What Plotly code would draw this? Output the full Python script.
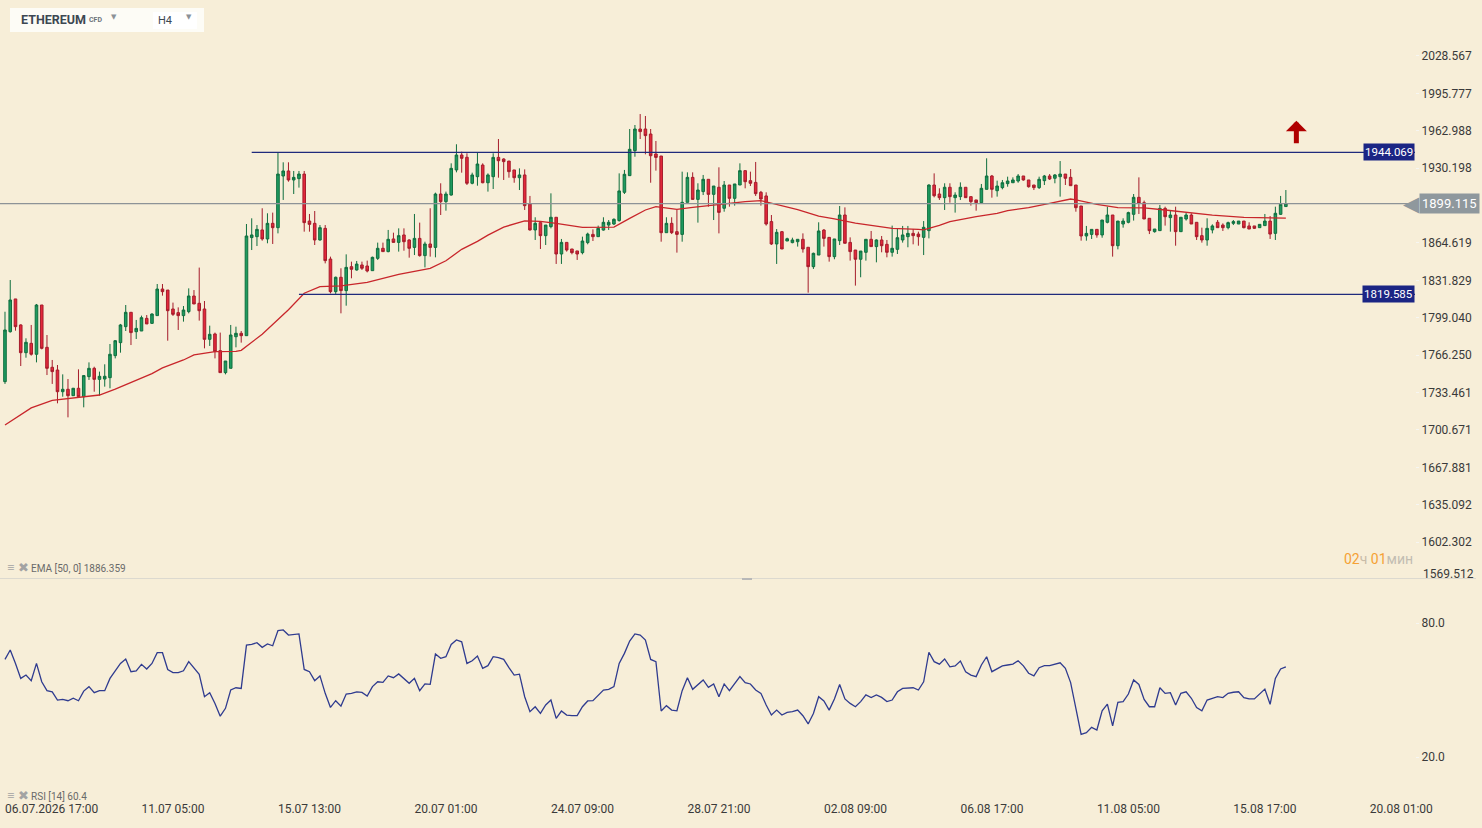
import plotly.graph_objects as go

BG = "#f7eed8"
FONT = "Roboto"

# ETHEREUM CFD, H4 candles; candle 0 = 06.07.2026 17:00
OPEN = [
    1743.0, 1786.8, 1815.5, 1792.7, 1768.4, 1776.6, 1767.0, 1810.2, 1773.1, 1755.6,
    1753.2, 1734.2, 1736.3, 1730.7, 1737.2, 1729.8, 1747.4, 1754.7, 1745.0, 1745.3,
    1746.5, 1765.8, 1777.2, 1791.2, 1803.8, 1786.8, 1787.4, 1798.5, 1794.1, 1800.9,
    1824.2, 1823.3, 1806.7, 1803.5, 1800.9, 1804.4, 1818.1, 1811.7, 1806.7, 1780.1,
    1784.8, 1770.2, 1750.9, 1754.7, 1782.4, 1785.4, 1783.3, 1869.3, 1870.1, 1876.0,
    1868.1, 1881.8, 1878.0, 1923.3, 1927.7, 1919.8, 1921.0, 1925.0, 1883.8, 1881.8,
    1867.2, 1877.4, 1850.5, 1821.9, 1834.5, 1822.8, 1843.8, 1840.9, 1845.3, 1844.4,
    1840.3, 1851.1, 1859.9, 1857.0, 1868.1, 1865.1, 1871.6, 1867.2, 1860.7, 1868.6,
    1853.5, 1863.7, 1860.7, 1907.5, 1900.8, 1906.6, 1928.6, 1941.7, 1939.7, 1916.9,
    1922.7, 1932.9, 1917.4, 1922.7, 1939.6, 1938.2, 1936.4, 1928.6, 1921.8, 1924.2,
    1898.7, 1876.0, 1882.4, 1871.0, 1878.9, 1887.1, 1854.9, 1865.1, 1859.3, 1857.6,
    1856.1, 1864.9, 1872.1, 1870.1, 1875.9, 1880.3, 1881.2, 1884.2, 1909.0, 1923.6,
    1945.5, 1964.5, 1964.5, 1960.1, 1942.6, 1940.8, 1873.6, 1881.8, 1874.5, 1872.1,
    1900.2, 1922.1, 1902.8, 1909.6, 1920.4, 1907.2, 1913.4, 1895.0, 1915.4, 1903.7,
    1915.4, 1928.0, 1919.2, 1917.7, 1909.0, 1905.8, 1883.3, 1863.7, 1874.5, 1866.3,
    1864.9, 1865.7, 1867.8, 1860.8, 1843.8, 1854.0, 1875.9, 1869.5, 1852.6, 1866.6,
    1889.1, 1865.1, 1858.4, 1850.3, 1856.4, 1867.8, 1861.4, 1867.2, 1863.4, 1856.4,
    1859.0, 1867.2, 1870.1, 1873.0, 1872.4, 1869.5, 1875.4, 1915.4, 1907.5, 1904.3,
    1913.4, 1904.3, 1905.2, 1913.4, 1905.2, 1902.3, 1899.9, 1911.6, 1923.3, 1910.4,
    1913.1, 1916.6, 1917.4, 1918.9, 1923.3, 1919.8, 1915.4, 1913.1, 1919.2, 1923.3,
    1921.3, 1922.7, 1925.0, 1922.1, 1915.4, 1897.0, 1870.7, 1872.1, 1876.5, 1871.6,
    1882.7, 1889.1, 1862.2, 1881.2, 1882.7, 1889.7, 1904.6, 1899.9, 1886.2, 1874.5,
    1875.4, 1894.9, 1886.8, 1889.1, 1874.5, 1885.6, 1889.1, 1882.7, 1871.0, 1867.2,
    1876.0, 1882.7, 1880.3, 1878.0, 1881.8, 1881.2, 1883.8, 1879.5, 1879.5, 1878.0,
    1879.8, 1883.8, 1873.0, 1889.7, 1896.5,
]
HIGH = [
    1804.3, 1832.1, 1815.5, 1793.3, 1781.0, 1792.7, 1811.1, 1810.2, 1783.9, 1762.0,
    1757.6, 1749.4, 1745.3, 1737.5, 1753.8, 1748.8, 1759.9, 1756.1, 1751.8, 1758.2,
    1776.0, 1779.5, 1793.6, 1810.2, 1803.8, 1797.1, 1800.9, 1801.4, 1802.9, 1828.6,
    1828.6, 1823.3, 1812.3, 1808.1, 1809.3, 1824.8, 1823.3, 1843.0, 1813.7, 1792.1,
    1786.0, 1786.0, 1761.1, 1792.7, 1791.2, 1787.4, 1881.2, 1886.2, 1880.3, 1895.0,
    1890.6, 1891.2, 1943.7, 1935.3, 1935.3, 1927.7, 1927.7, 1927.7, 1890.0, 1892.6,
    1880.3, 1880.3, 1852.6, 1835.1, 1842.4, 1854.6, 1848.2, 1848.8, 1848.2, 1849.1,
    1852.6, 1864.9, 1864.9, 1876.0, 1873.6, 1877.4, 1877.4, 1867.8, 1890.0, 1882.4,
    1865.7, 1895.0, 1908.7, 1916.9, 1909.6, 1934.4, 1951.1, 1944.6, 1943.2, 1926.2,
    1943.7, 1934.4, 1925.6, 1943.2, 1955.7, 1938.8, 1936.4, 1928.6, 1930.0, 1929.1,
    1905.8, 1887.1, 1882.4, 1880.3, 1908.1, 1887.1, 1868.1, 1865.1, 1859.3, 1857.6,
    1870.1, 1873.6, 1876.5, 1879.8, 1887.1, 1884.7, 1886.2, 1925.6, 1928.6, 1964.5,
    1968.0, 1977.6, 1975.9, 1964.5, 1954.0, 1940.8, 1887.1, 1887.1, 1893.5, 1927.1,
    1926.5, 1926.5, 1916.9, 1924.2, 1920.4, 1914.5, 1930.9, 1918.9, 1915.4, 1916.3,
    1934.4, 1928.0, 1927.1, 1935.6, 1910.2, 1909.0, 1889.1, 1876.8, 1875.1, 1869.2,
    1869.2, 1867.8, 1873.0, 1860.8, 1856.1, 1882.7, 1876.8, 1869.5, 1868.1, 1897.0,
    1895.8, 1869.5, 1858.4, 1857.5, 1867.8, 1875.1, 1867.8, 1870.7, 1867.2, 1879.8,
    1876.8, 1879.5, 1879.5, 1876.8, 1874.5, 1883.8, 1916.0, 1925.6, 1912.5, 1916.9,
    1916.9, 1909.0, 1917.7, 1913.4, 1905.2, 1902.3, 1916.3, 1938.8, 1924.2, 1919.2,
    1919.8, 1922.7, 1922.1, 1925.0, 1923.3, 1919.8, 1915.4, 1922.7, 1924.2, 1925.0,
    1925.0, 1936.4, 1925.0, 1929.4, 1915.4, 1897.0, 1879.5, 1876.5, 1876.5, 1884.7,
    1896.4, 1889.1, 1883.8, 1886.2, 1892.0, 1907.5, 1922.1, 1901.7, 1886.2, 1876.8,
    1897.9, 1896.4, 1892.9, 1896.4, 1887.1, 1891.2, 1890.6, 1882.7, 1878.0, 1886.2,
    1880.9, 1884.7, 1881.8, 1883.3, 1884.7, 1883.8, 1883.8, 1882.7, 1879.5, 1880.9,
    1890.0, 1888.2, 1896.4, 1905.8, 1911.0,
]
LOW = [
    1741.0, 1786.0, 1787.7, 1756.7, 1764.0, 1765.8, 1759.9, 1771.3, 1748.8, 1741.0,
    1724.0, 1729.8, 1711.7, 1730.4, 1729.3, 1720.5, 1744.5, 1734.2, 1730.7, 1738.6,
    1737.2, 1763.4, 1768.4, 1787.4, 1775.1, 1780.4, 1787.4, 1793.6, 1793.6, 1800.9,
    1818.4, 1778.9, 1800.6, 1788.3, 1795.6, 1802.9, 1811.1, 1796.5, 1772.2, 1774.3,
    1763.4, 1750.9, 1749.4, 1754.7, 1773.1, 1777.2, 1783.3, 1858.4, 1861.9, 1866.6,
    1864.3, 1863.7, 1873.0, 1902.3, 1918.3, 1907.5, 1913.1, 1874.5, 1874.5, 1862.8,
    1866.6, 1846.7, 1820.4, 1819.9, 1802.9, 1809.6, 1833.6, 1840.3, 1840.9, 1838.8,
    1840.3, 1849.7, 1857.0, 1856.4, 1865.1, 1857.0, 1857.8, 1851.7, 1854.0, 1852.6,
    1843.2, 1852.6, 1852.0, 1889.1, 1892.9, 1906.1, 1926.5, 1926.2, 1915.4, 1916.0,
    1914.8, 1916.9, 1909.6, 1911.9, 1921.8, 1919.8, 1921.8, 1917.4, 1911.0, 1893.5,
    1875.4, 1867.2, 1859.3, 1862.8, 1877.4, 1846.2, 1846.2, 1857.0, 1854.6, 1849.7,
    1854.6, 1863.4, 1866.3, 1870.1, 1875.4, 1876.0, 1880.3, 1883.3, 1907.5, 1923.6,
    1940.2, 1955.7, 1942.3, 1917.4, 1928.0, 1865.7, 1873.6, 1872.4, 1856.1, 1865.7,
    1900.2, 1902.8, 1882.4, 1906.6, 1896.4, 1884.7, 1873.0, 1892.0, 1896.4, 1897.3,
    1915.4, 1912.5, 1914.5, 1905.8, 1897.3, 1879.8, 1862.8, 1846.2, 1859.3, 1866.3,
    1864.3, 1861.4, 1856.1, 1821.0, 1841.8, 1854.0, 1861.4, 1848.2, 1850.3, 1862.8,
    1864.3, 1849.1, 1827.2, 1834.5, 1849.1, 1861.4, 1847.6, 1856.4, 1852.0, 1852.6,
    1854.9, 1864.9, 1860.8, 1863.4, 1862.2, 1854.0, 1868.6, 1904.6, 1902.3, 1893.5,
    1899.9, 1891.2, 1902.3, 1904.3, 1897.3, 1892.9, 1899.9, 1911.6, 1904.3, 1905.2,
    1911.6, 1913.9, 1917.4, 1917.4, 1919.2, 1913.1, 1911.0, 1911.9, 1915.4, 1919.8,
    1916.9, 1905.2, 1915.4, 1914.8, 1892.0, 1866.6, 1866.6, 1868.1, 1869.2, 1869.2,
    1881.8, 1852.6, 1859.0, 1878.0, 1881.8, 1884.2, 1890.0, 1885.6, 1872.4, 1873.6,
    1875.4, 1879.8, 1874.5, 1862.2, 1874.5, 1884.2, 1881.2, 1867.2, 1864.9, 1862.2,
    1873.0, 1878.0, 1875.1, 1876.5, 1880.3, 1881.2, 1877.4, 1876.8, 1876.8, 1878.0,
    1879.8, 1868.1, 1867.2, 1889.1, 1896.4,
]
CLOSE = [
    1788.3, 1814.6, 1791.2, 1768.4, 1777.5, 1767.0, 1810.2, 1772.2, 1754.7, 1751.8,
    1734.2, 1736.3, 1730.7, 1737.2, 1729.8, 1748.3, 1754.7, 1745.0, 1747.7, 1747.7,
    1767.0, 1778.9, 1792.7, 1803.8, 1786.0, 1789.7, 1799.1, 1793.6, 1802.3, 1824.2,
    1821.9, 1805.2, 1802.0, 1800.9, 1805.8, 1818.1, 1811.1, 1805.2, 1780.1, 1784.5,
    1769.3, 1750.9, 1761.1, 1783.9, 1785.4, 1783.3, 1870.7, 1871.6, 1876.5, 1868.1,
    1881.8, 1878.0, 1925.0, 1927.7, 1919.8, 1922.1, 1925.0, 1882.4, 1880.9, 1867.2,
    1878.0, 1849.1, 1821.9, 1834.5, 1822.8, 1843.2, 1841.5, 1846.1, 1842.4, 1840.0,
    1852.0, 1859.9, 1857.0, 1867.8, 1865.1, 1871.0, 1865.7, 1859.9, 1868.6, 1853.5,
    1863.7, 1860.7, 1907.5, 1900.8, 1907.5, 1930.0, 1941.7, 1938.8, 1916.9, 1924.2,
    1933.8, 1917.4, 1924.2, 1939.6, 1936.7, 1935.9, 1927.1, 1921.8, 1924.2, 1897.3,
    1876.0, 1881.8, 1871.0, 1880.3, 1887.1, 1854.9, 1865.1, 1858.4, 1856.1, 1854.9,
    1866.3, 1872.4, 1870.1, 1877.4, 1882.7, 1882.7, 1885.3, 1910.2, 1924.8, 1946.7,
    1964.5, 1962.2, 1958.7, 1941.1, 1939.6, 1873.6, 1881.8, 1873.6, 1872.1, 1900.2,
    1922.1, 1902.8, 1911.0, 1920.4, 1907.2, 1914.5, 1891.4, 1915.4, 1903.7, 1916.3,
    1928.0, 1918.3, 1916.9, 1907.8, 1903.1, 1881.2, 1863.7, 1873.9, 1859.3, 1868.3,
    1867.2, 1867.8, 1859.3, 1843.8, 1855.5, 1875.1, 1868.6, 1852.6, 1868.1, 1889.1,
    1864.3, 1857.0, 1850.3, 1857.5, 1867.8, 1861.4, 1867.2, 1862.2, 1856.4, 1859.9,
    1869.2, 1871.6, 1873.0, 1871.0, 1870.1, 1878.3, 1915.4, 1906.0, 1904.3, 1913.4,
    1905.2, 1906.6, 1913.4, 1904.3, 1900.8, 1899.9, 1912.5, 1923.3, 1911.6, 1914.5,
    1917.4, 1918.9, 1919.8, 1923.3, 1919.8, 1913.9, 1913.1, 1920.4, 1923.3, 1920.7,
    1924.2, 1925.0, 1921.3, 1914.8, 1895.5, 1870.7, 1873.0, 1876.5, 1871.6, 1884.7,
    1889.1, 1862.2, 1883.8, 1883.8, 1891.2, 1904.6, 1899.3, 1885.6, 1875.4, 1876.8,
    1894.9, 1887.6, 1889.1, 1874.5, 1887.1, 1889.1, 1881.2, 1870.1, 1867.2, 1877.4,
    1879.5, 1878.0, 1878.0, 1882.4, 1883.3, 1883.8, 1878.0, 1876.8, 1877.4, 1880.9,
    1883.8, 1872.4, 1890.6, 1898.5, 1899.1,
]

RSI = [
    63.7, 67.9, 61.9, 55.2, 56.7, 54.2, 61.9, 53.7, 49.7, 49.2,
    45.5, 45.8, 45.2, 46.3, 45.2, 49.5, 51.5, 48.8, 49.7, 49.7,
    55.2, 58.6, 61.9, 63.9, 58.2, 58.6, 61.5, 59.4, 61.9, 66.7,
    66.7, 59.2, 57.8, 57.8, 58.6, 62.7, 60.0, 57.0, 47.0, 48.8,
    44.0, 38.3, 41.8, 50.0, 51.0, 50.7, 70.1, 70.4, 71.2, 69.1,
    70.6, 69.8, 76.6, 76.9, 74.6, 74.8, 75.1, 59.2, 58.2, 54.2,
    56.3, 48.5, 42.2, 45.2, 42.8, 48.2, 48.5, 49.2, 48.9, 47.3,
    51.5, 53.7, 53.4, 56.3, 55.5, 57.2, 55.2, 53.0, 55.2, 49.7,
    52.7, 52.5, 66.1, 64.2, 64.9, 70.4, 72.4, 71.6, 61.9, 63.1,
    65.2, 59.7, 60.9, 64.9, 64.5, 63.7, 60.0, 56.7, 57.1, 47.0,
    40.3, 42.5, 39.5, 43.3, 45.5, 37.3, 40.6, 38.8, 38.5, 38.5,
    42.5, 45.1, 45.2, 47.7, 50.0, 50.3, 51.5, 61.9, 66.4, 71.9,
    75.1, 74.6, 72.4, 63.7, 62.7, 40.6, 43.0, 41.0, 40.7, 49.7,
    55.5, 50.3, 52.2, 54.5, 51.2, 52.7, 47.0, 52.7, 49.7, 53.0,
    56.0, 53.3, 52.7, 50.0, 48.5, 43.3, 38.8, 41.0, 38.8, 40.0,
    40.3, 41.0, 38.5, 34.8, 39.5, 47.0, 45.1, 41.0, 46.0, 52.5,
    46.0, 44.0, 42.5, 44.8, 47.8, 46.6, 47.8, 46.7, 44.8, 45.5,
    49.2, 50.7, 51.0, 51.0, 50.0, 53.7, 66.9, 62.7, 61.6, 63.9,
    60.4, 60.8, 63.0, 58.2, 56.7, 56.0, 61.2, 64.9, 58.2, 59.4,
    60.8, 61.2, 61.6, 63.1, 60.8, 57.5, 56.3, 60.0, 60.9, 60.9,
    61.6, 62.2, 59.7, 53.3, 41.8, 30.1, 30.9, 33.3, 32.1, 40.7,
    43.7, 33.9, 44.5, 44.8, 48.2, 54.5, 52.5, 45.8, 42.5, 42.5,
    51.0, 48.5, 48.8, 43.3, 48.5, 49.2, 46.3, 42.1, 40.7, 45.5,
    46.3, 47.0, 46.6, 48.5, 49.0, 49.2, 46.6, 46.0, 46.0, 48.0,
    50.4, 43.6, 55.2, 59.4, 60.4,
]

# EMA(50) at these candle positions
EMA_IDX = [0, 5, 9, 14, 18, 21, 26, 28, 30, 34, 36, 40, 44, 45, 49, 52, 54, 57, 60,
           64, 69, 75, 81, 84, 87, 90, 92, 95, 99, 102, 105, 110, 114, 116, 119, 122,
           124, 128, 131, 137, 141, 144, 148, 151, 155, 158, 162, 165, 169, 174, 175,
           178, 180, 185, 189, 191, 195, 199, 203, 204, 208, 212, 217, 221, 226, 230,
           236, 241, 244]
EMA_VAL = [1705.0, 1720.0, 1726.5, 1729.4, 1731.3, 1736.5, 1746.5, 1750.0, 1755.0,
           1762.0, 1766.5, 1769.3, 1769.5, 1770.5, 1784.5, 1797.0, 1806.0, 1820.5,
           1826.3, 1827.0, 1830.0, 1837.0, 1842.4, 1849.0, 1859.0, 1866.0, 1871.5,
           1878.5, 1884.0, 1883.5, 1881.8, 1878.2, 1878.0, 1878.5, 1886.2, 1893.5,
           1896.4, 1894.0, 1895.8, 1899.0, 1900.8, 1901.7, 1897.3, 1893.8, 1888.2,
           1885.8, 1881.9, 1880.2, 1877.3, 1876.5, 1876.0, 1880.0, 1883.3, 1887.7,
           1890.6, 1893.0, 1895.5, 1899.3, 1903.1, 1902.4, 1898.5, 1895.6, 1895.4,
           1893.5, 1891.3, 1889.0, 1887.1, 1886.7, 1886.359]

X_TICK_IDX = [0, 26, 52, 78, 104, 130, 156, 182, 208, 234, 260]
X_TICK_TEXT = ["06.07.2026 17:00", "11.07 05:00", "15.07 13:00", "20.07 01:00",
               "24.07 09:00", "28.07 21:00", "02.08 09:00", "06.08 17:00",
               "11.08 05:00", "15.08 17:00", "20.08 01:00"]
PRICE_TICKS = [2028.567, 1995.777, 1962.988, 1930.198, 1864.619, 1831.829, 1799.040,
               1766.250, 1733.461, 1700.671, 1667.881, 1635.092, 1602.302]
PRICE_BOTTOM_LABEL = 1569.512  # sits on the pane border, drawn lifted above it
RSI_TICKS = [20, 80]
LEVELS = [1944.069, 1819.585]
LEVEL_START = [47, 56]
LAST_PRICE = 1899.115
EMA_LAST = 1886.359
RSI_LAST = 60.4

X_RANGE = [-0.95, 268.6]
PLOT_H = 800  # plot area height in px (t=0, b=28)


def py(px):
    """paper y from pixel distance below top of the plot area"""
    return (PLOT_H - px) / PLOT_H


def pxx(px):
    return px / 1415


idx = list(range(len(CLOSE)))

fig = go.Figure()
fig.add_trace(go.Candlestick(
    x=idx, open=OPEN, high=HIGH, low=LOW, close=CLOSE,
    increasing=dict(line=dict(color="#0f6e3e", width=1), fillcolor="#1f9b60"),
    decreasing=dict(line=dict(color="#a51c2b", width=1), fillcolor="#e3283b"),
    whiskerwidth=0, showlegend=False, hoverinfo="skip",
    xaxis="x", yaxis="y",
))
fig.add_trace(go.Scatter(
    x=EMA_IDX, y=EMA_VAL, mode="lines",
    line=dict(color="#c8262b", width=1.3), showlegend=False, hoverinfo="skip",
    xaxis="x", yaxis="y",
))
fig.add_trace(go.Scatter(
    x=idx, y=RSI, mode="lines",
    line=dict(color="#2f3b8f", width=1.3), showlegend=False, hoverinfo="skip",
    xaxis="x2", yaxis="y2",
))

shapes = []
for lvl, start in zip(LEVELS, LEVEL_START):
    shapes.append(dict(type="line", xref="x", yref="y", x0=start, x1=X_RANGE[1],
                       y0=lvl, y1=lvl, line=dict(color="#1f2a7c", width=1.2)))
shapes.append(dict(type="line", xref="paper", yref="y", x0=0, x1=1,
                   y0=LAST_PRICE, y1=LAST_PRICE, line=dict(color="#8d9397", width=1.2)))
# pane separator and its handle
shapes.append(dict(type="line", xref="paper", yref="paper", x0=0, x1=pxx(1476),
                   y0=py(578.5), y1=py(578.5), line=dict(color="#dcd9cf", width=1)))
shapes.append(dict(type="line", xref="paper", yref="paper", x0=pxx(742), x1=pxx(752),
                   y0=py(579), y1=py(579), line=dict(color="#b8b8b8", width=2)))
# instrument selector box
shapes.append(dict(type="rect", xref="paper", yref="paper", x0=pxx(10), x1=pxx(204),
                   y0=py(32), y1=py(8), fillcolor="#fdfcf6", line=dict(width=0)))
shapes.append(dict(type="rect", xref="paper", yref="paper", x0=pxx(153), x1=pxx(197),
                   y0=py(29), y1=py(12), fillcolor="#ffffff", line=dict(width=0)))

ann = []
for lvl in LEVELS:
    ann.append(dict(xref="paper", yref="y", x=1, y=lvl, xanchor="right", yanchor="middle",
                    text=f"{lvl:.3f}", showarrow=False, bgcolor="#1b2584", borderpad=1,
                    font=dict(family=FONT, size=11.5, color="#ffffff")))
ann.append(dict(xref="paper", yref="y", x=pxx(1419), y=LAST_PRICE, xanchor="left",
                yanchor="middle", text=f"{LAST_PRICE:.3f}", showarrow=False,
                bgcolor="#8f989d", borderpad=2,
                font=dict(family=FONT, size=13, color="#ffffff")))
ann.append(dict(xref="paper", yref="y", x=pxx(1422), y=LAST_PRICE, xanchor="right",
                yanchor="middle", text="◀", showarrow=False,
                font=dict(family="DejaVu Sans", size=21, color="#8f989d")))
ann.append(dict(xref="paper", yref="paper", x=pxx(1421), y=py(574), xanchor="left",
                yanchor="middle", text=f"{PRICE_BOTTOM_LABEL:.3f}", showarrow=False,
                font=dict(family=FONT, size=12, color="#3a3a3a")))
# buy signal arrow
ann.append(dict(xref="x", yref="y", x=246, y=1971.8, ax=0, ay=24, text="",
                showarrow=True, arrowhead=1, arrowwidth=5, arrowsize=0.7,
                arrowcolor="#b00000"))
# candle countdown
ann.append(dict(xref="paper", yref="paper", x=1, y=py(559), xanchor="right",
                yanchor="middle", showarrow=False,
                text="<span style='color:#f5a134'>02</span><span style='color:#c9bca8'>ч</span> "
                     "<span style='color:#f5a134'>01</span><span style='color:#c2bdb2'>мин</span>",
                font=dict(family=FONT, size=14)))
# indicator captions
ann.append(dict(xref="paper", yref="paper", x=pxx(5), y=py(567), xanchor="left",
                yanchor="middle", showarrow=False,
                text=f"<span style='color:#a3a3a3;font-size:13px'>≡ ✖</span> EMA [50, 0] {EMA_LAST:.3f}",
                font=dict(family=FONT, size=10, color="#6a6a6a")))
ann.append(dict(xref="paper", yref="paper", x=pxx(5), y=py(795), xanchor="left",
                yanchor="middle", showarrow=False,
                text=f"<span style='color:#a3a3a3;font-size:13px'>≡ ✖</span> RSI [14] {RSI_LAST}",
                font=dict(family=FONT, size=10, color="#6a6a6a")))
# header
ann.append(dict(xref="paper", yref="paper", x=pxx(19), y=py(19), xanchor="left",
                yanchor="middle", showarrow=False, text="<b>ETHEREUM</b>",
                font=dict(family=FONT, size=12.5, color="#3d4852")))
ann.append(dict(xref="paper", yref="paper", x=pxx(87), y=py(20), xanchor="left",
                yanchor="middle", showarrow=False, text="<b>CFD</b>",
                font=dict(family=FONT, size=7, color="#6c737a")))
ann.append(dict(xref="paper", yref="paper", x=pxx(113.5), y=py(16.5), xanchor="center",
                yanchor="middle", showarrow=False, text="▼",
                font=dict(family="DejaVu Sans", size=7, color="#8c9196")))
ann.append(dict(xref="paper", yref="paper", x=pxx(165), y=py(20.5), xanchor="center",
                yanchor="middle", showarrow=False, text="H4",
                font=dict(family=FONT, size=11, color="#3d4852")))
ann.append(dict(xref="paper", yref="paper", x=pxx(189), y=py(16.5), xanchor="center",
                yanchor="middle", showarrow=False, text="▼",
                font=dict(family="DejaVu Sans", size=7, color="#8c9196")))

axis_font = dict(family=FONT, size=12, color="#3a3a3a")
fig.update_layout(
    width=1482, height=828,
    margin=dict(l=0, r=67, t=0, b=28),
    paper_bgcolor=BG, plot_bgcolor=BG,
    showlegend=False, hovermode=False,
    xaxis=dict(domain=[0, 1], anchor="y", range=X_RANGE, showticklabels=False,
               showgrid=False, zeroline=False, showline=False,
               rangeslider=dict(visible=False)),
    xaxis2=dict(domain=[0, 1], anchor="y2", matches="x", range=X_RANGE,
                tickvals=X_TICK_IDX, ticktext=X_TICK_TEXT, ticks="",
                ticklabelposition="outside right", tickfont=axis_font,
                showgrid=False, zeroline=False, showline=False),
    yaxis=dict(domain=[py(580), 1], anchor="x", side="right", range=[1569.11, 2077.59],
               tickvals=PRICE_TICKS, ticktext=[f"{v:.3f}" for v in PRICE_TICKS],
               ticks="outside", ticklen=3, tickcolor="#f6f6f2", tickfont=axis_font,
               showgrid=False, zeroline=False, showline=False),
    yaxis2=dict(domain=[0, py(581)], anchor="x2", side="right", range=[0.746, 98.81],
                tickvals=RSI_TICKS, ticktext=[f"{v:.1f}" for v in RSI_TICKS],
                ticks="outside", ticklen=3, tickcolor="#f6f6f2", tickfont=axis_font,
                showgrid=False, zeroline=False, showline=False),
    shapes=shapes,
    annotations=ann,
)

# page margin off so the 1482x828 figure fills the window exactly
fig.write_html("out.html", config={"displayModeBar": False},
               post_script="document.body.style.margin='0';document.body.style.overflow='hidden';")
